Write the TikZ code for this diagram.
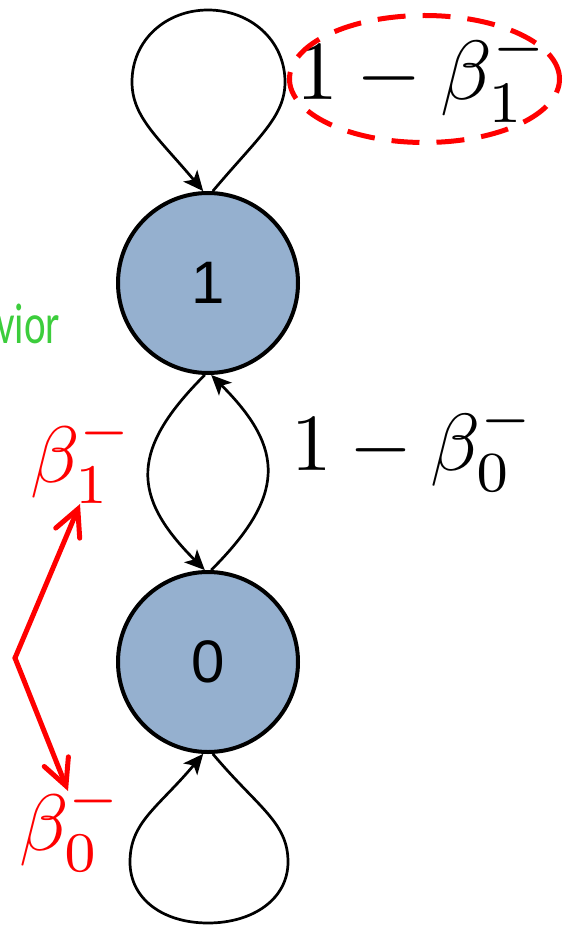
\documentclass[tikz,border=0pt]{standalone}
\usepackage{fontspec}
\usepackage{graphicx}
\usetikzlibrary{arrows.meta}
\newfontfamily\statefont{Liberation Sans}
\newfontfamily\greenfont{Carlito}
\definecolor{statefill}{RGB}{149,176,207}
\definecolor{cutgreen}{RGB}{60,205,60}
\newcommand{\bigmath}[2][8]{\scalebox{#1}{$#2$}}
\begin{document}
\begin{tikzpicture}[x=1pt,y=1pt,
  state/.style={circle, draw=black, line width=4pt, fill=statefill, minimum size=180pt, inner sep=0pt,
    font=\statefont\fontsize{60}{72}\selectfont},
  trans/.style={line width=2.7pt, -{Stealth[length=20pt,width=18pt,inset=5pt]}},
  biglabel/.style={inner sep=0pt, anchor=base west},
  redlabel/.style={biglabel, text=red},
  redarrow/.style={draw=red, line width=5pt, line cap=round, line join=round,
    -{Straight Barb[length=26pt,width=26pt,line cap=round]}},
  hiell/.style={draw=red, line width=5pt, dash pattern=on 28pt off 17pt}
]
\useasboundingbox (0,0) rectangle (567,-925);

\node[state] (n1) at (208,-283) {1};
\node[state] (n0) at (208,-662) {0};

% self loops
\coordinate (toptop) at (208,-10);
\coordinate (rtop) at (285,-82);
\coordinate (ltop) at (132,-82);
\coordinate (botbot) at (208,-923);
\coordinate (rbot) at (288,-862);
\coordinate (lbot) at (130,-862);
\draw[trans] (n1.87) .. controls +(50:70) and +(0,-35) .. (rtop)
                     .. controls +(0,42) and +(42,0) .. (toptop)
                     .. controls +(-42,0) and +(0,42) .. (ltop)
                     .. controls +(0,-35) and +(130:70) .. (n1.93);
\draw[trans] (n0.-87) .. controls +(-50:70) and +(0,40) .. (rbot)
                      .. controls +(0,-37) and +(45,0) .. (botbot)
                      .. controls +(-45,0) and +(0,-37) .. (lbot)
                      .. controls +(0,40) and +(-130:70) .. (n0.-93);
% transitions between states
\draw[trans] (n1.-92) to[out=-135,in=135,distance=105pt] (n0.92);
\draw[trans] (n0.88) to[out=45,in=-45,distance=105pt] (n1.-88);

% labels
\node[biglabel] (l11) at (296,-100) {\bigmath[8.4]{1-\beta_1^-}};
\draw[hiell] (424.5,-79) ellipse [x radius=135, y radius=63.5];
\node[biglabel] (l10) at (291,-470) {\bigmath[8.1]{1-\beta_0^-}};

\node[redlabel] (b1) at (30,-482) {\bigmath{\beta_1^-}};
\node[redlabel] (b0) at (19,-850) {\bigmath{\beta_0^-}};

\coordinate (v) at (15,-658);
\coordinate (t1) at (80,-504);
\coordinate (t0) at (68,-791);
\draw[redarrow] (v) -- (t1);
\draw[redarrow] (v) -- (t0);

\node[anchor=base west, inner sep=0pt, text=cutgreen, font=\greenfont\fontsize{41}{48}\selectfont] (beh) at (-4,-343) {\scalebox{1}[1.4]{vior}};
\end{tikzpicture}
\end{document}
